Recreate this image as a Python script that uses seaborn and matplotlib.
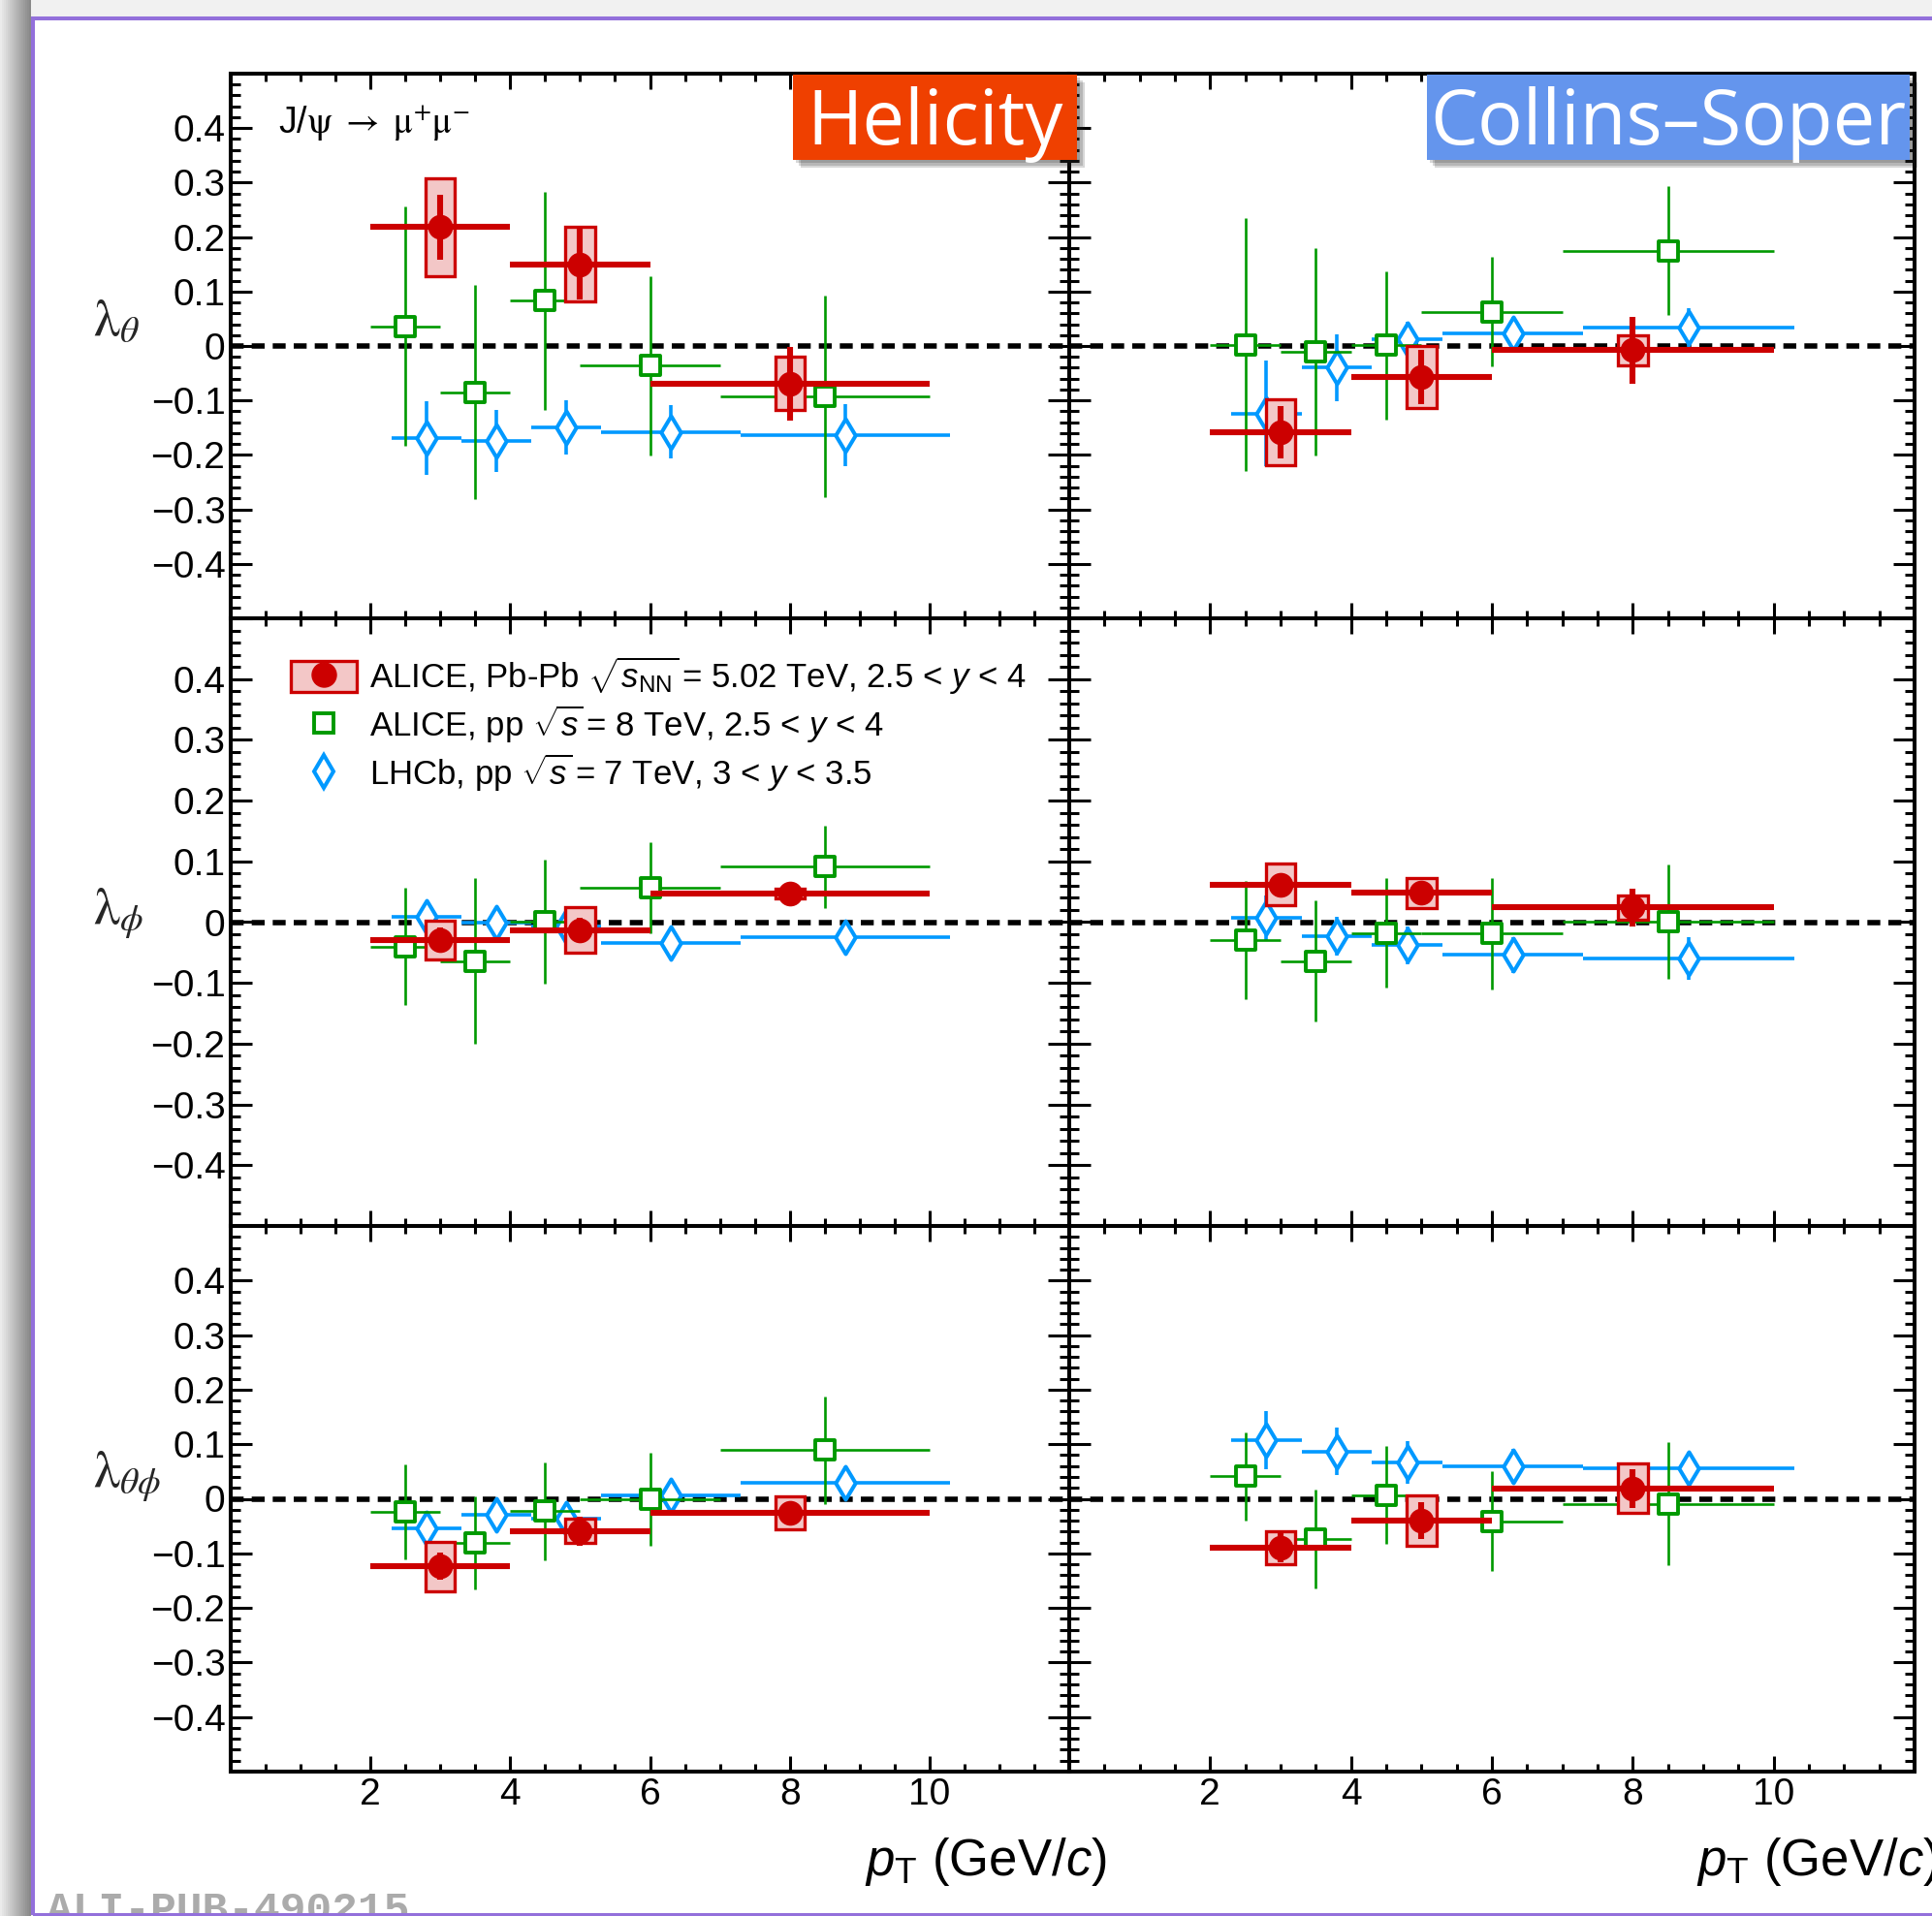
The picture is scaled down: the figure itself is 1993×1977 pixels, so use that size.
#!/usr/bin/env python3
"""J/psi polarization parameters vs pT: Helicity and Collins-Soper frames."""
import matplotlib

matplotlib.use("Agg")
import matplotlib.patheffects as pe
import matplotlib.pyplot as plt
import numpy as np
import pandas as pd
import seaborn as sns
from matplotlib.legend_handler import HandlerTuple
from matplotlib.lines import Line2D
from matplotlib.patches import Patch, Rectangle
from matplotlib.ticker import FuncFormatter, MultipleLocator

# panels in reading order: (row, col) -> lambda_theta / lambda_phi / lambda_thetaphi x HE / CS
PANELS = ["HE_th", "CS_th", "HE_ph", "CS_ph", "HE_thph", "CS_thph"]
ROW_LABELS = [r"$\mathrm{\lambda}_{\theta}$", r"$\mathrm{\lambda}_{\phi}$",
              r"$\mathrm{\lambda}_{\theta\phi}$"]
FRAMES = ["Helicity", "Collins\u2013Soper"]
LEGEND_LABELS = [
    r"ALICE, Pb-Pb $\sqrt{s_{\mathrm{NN}}}\!$ = 5.02 TeV, 2.5 < $y$ < 4",
    r"ALICE, pp $\sqrt{s}\!$ = 8 TeV, 2.5 < $y$ < 4",
    r"LHCb, pp $\sqrt{s}\!$ = 7 TeV, 3 < $y$ < 3.5",
]

# ALICE Pb-Pb 5.02 TeV
PBPB_PT = [3, 5, 8]
PBPB_HALF = [1, 1, 2]
PBPB_VAL = [[0.218, 0.150, -0.069], [-0.158, -0.057, -0.008],
            [-0.029, -0.013, 0.047], [0.062, 0.048, 0.024],
            [-0.124, -0.059, -0.026], [-0.090, -0.040, 0.019]]
PBPB_STAT = [[0.060, 0.065, 0.068], [0.048, 0.050, 0.062],
             [0.020, 0.020, 0.010], [0.015, 0.012, 0.031],
             [0.025, 0.027, 0.015], [0.027, 0.034, 0.035]]
PBPB_SYST = [[0.090, 0.069, 0.049], [0.060, 0.057, 0.028],
             [0.032, 0.037, 0.008], [0.034, 0.025, 0.020],
             [0.045, 0.022, 0.030], [0.030, 0.046, 0.045]]

# ALICE pp 8 TeV
PP_PT = [2.5, 3.5, 4.5, 6, 8.5]
PP_HALF = [0.5, 0.5, 0.5, 1, 1.5]
PP_VAL = [[0.036, -0.085, 0.083, -0.036, -0.093],
          [0.002, -0.011, 0.001, 0.063, 0.175],
          [-0.040, -0.064, 0.001, 0.056, 0.091],
          [-0.030, -0.064, -0.018, -0.019, 0.001],
          [-0.024, -0.081, -0.023, -0.001, 0.089],
          [0.041, -0.074, 0.007, -0.041, -0.009]]
PP_ERR = [[0.220, 0.197, 0.200, 0.165, 0.185],
          [0.232, 0.190, 0.136, 0.100, 0.118],
          [0.096, 0.136, 0.102, 0.075, 0.068],
          [0.097, 0.100, 0.090, 0.092, 0.094],
          [0.087, 0.085, 0.090, 0.086, 0.098],
          [0.081, 0.091, 0.090, 0.091, 0.113]]

# LHCb pp 7 TeV (drawn shifted by +0.3 GeV/c)
LHCB_PT = [2.8, 3.8, 4.8, 6.3, 8.8]
LHCB_HALF = [0.5, 0.5, 0.5, 1, 1.5]
LHCB_VAL = [[-0.169, -0.174, -0.150, -0.158, -0.163],
            [-0.124, -0.040, 0.012, 0.024, 0.034],
            [0.009, -0.001, -0.007, -0.034, -0.025],
            [0.007, -0.023, -0.038, -0.054, -0.060],
            [-0.054, -0.030, -0.036, 0.007, 0.029],
            [0.107, 0.087, 0.066, 0.059, 0.056]]
LHCB_ERR = [[0.067, 0.057, 0.050, 0.049, 0.057],
            [0.097, 0.062, 0.033, 0.030, 0.036],
            [0.025, 0.020, 0.020, 0.020, 0.026],
            [0.037, 0.032, 0.031, 0.030, 0.035],
            [0.032, 0.029, 0.025, 0.028, 0.030],
            [0.053, 0.044, 0.039, 0.032, 0.030]]

RED, PINK = "#CC0000", "#F3C7C7"
GREEN = "#009900"
BLUE = "#0099FF"

W, H = 1993, 1977
COL_PX = [238, 1103, 1975]
ROW_PX = [76, 638, 1265, 1828]


def build_frame():
    rows = []
    for p, name in enumerate(PANELS):
        for x, hw, v, st, sy in zip(PBPB_PT, PBPB_HALF, PBPB_VAL[p], PBPB_STAT[p], PBPB_SYST[p]):
            rows.append(dict(panel=name, sample="pbpb", pt=x, half=hw, val=v, err=st, syst=sy))
        for x, hw, v, er in zip(PP_PT, PP_HALF, PP_VAL[p], PP_ERR[p]):
            rows.append(dict(panel=name, sample="pp8", pt=x, half=hw, val=v, err=er, syst=0.0))
        for x, hw, v, er in zip(LHCB_PT, LHCB_HALF, LHCB_VAL[p], LHCB_ERR[p]):
            rows.append(dict(panel=name, sample="lhcb", pt=x, half=hw, val=v, err=er, syst=0.0))
    return pd.DataFrame(rows)


def yfmt(v, _):
    if abs(v) > 0.45:
        return ""
    if abs(v) < 1e-9:
        return "0"
    return f"{v:.1f}".replace("-", "\u2212")


def xfmt(v, _):
    return "" if v < 1 or v > 11 else f"{v:.0f}"


def main():
    sns.set_theme(style="ticks", rc={"axes.edgecolor": "black", "xtick.color": "black",
                                     "ytick.color": "black", "text.color": "black"})
    plt.rcParams["font.family"] = ["Liberation Sans", "DejaVu Sans"]
    plt.rcParams["mathtext.fontset"] = "custom"
    plt.rcParams["mathtext.rm"] = "Liberation Sans"
    plt.rcParams["mathtext.it"] = "Liberation Sans:italic"
    plt.rcParams["mathtext.bf"] = "Liberation Sans:bold"

    df = build_frame()
    fig = plt.figure(figsize=(W / 100, H / 100), dpi=100)
    fig.patch.set_facecolor("#F1F1F1")

    # page background: left shadow strip, white sheet, purple frame
    for i, g in enumerate(np.linspace(0.94, 0.62, 16) ** 1.3):
        fig.add_artist(Rectangle((i * 2 / W, 0), 2 / W, 1, transform=fig.transFigure,
                                 facecolor=str(g), edgecolor="none", zorder=-30))
    fig.add_artist(Rectangle((34 / W, 0), 1, 1 - 18.5 / H, transform=fig.transFigure,
                             facecolor="white", edgecolor="none", zorder=-20))

    for r in range(3):
        for c in range(2):
            p = r * 2 + c
            name = PANELS[p]
            x0, x1 = COL_PX[c], COL_PX[c + 1]
            y0, y1 = ROW_PX[r], ROW_PX[r + 1]
            ax = fig.add_axes([x0 / W, 1 - y1 / H, (x1 - x0) / W, (y1 - y0) / H])
            ax.set_facecolor("white")

            ax.axhline(0, color="black", lw=4.0, ls=(0, (2.4, 1.5)), zorder=1.5)

            d = df[(df.panel == name) & (df["sample"] == "lhcb")]
            ax.errorbar(d.pt, d.val, xerr=d.half, yerr=d.err, fmt="none",
                        ecolor=BLUE, elinewidth=2.6, capsize=0, zorder=2)
            sns.scatterplot(data=d, x="pt", y="val", ax=ax, marker="d", s=300,
                            color="white", edgecolor=BLUE, linewidth=2.9,
                            zorder=2.5, legend=False)

            d = df[(df.panel == name) & (df["sample"] == "pp8")]
            ax.errorbar(d.pt, d.val, xerr=d.half, yerr=d.err, fmt="none",
                        ecolor=GREEN, elinewidth=1.9, capsize=0, zorder=3)
            sns.scatterplot(data=d, x="pt", y="val", ax=ax, marker="s", s=215,
                            color="white", edgecolor=GREEN, linewidth=2.8,
                            zorder=3.5, legend=False)

            d = df[(df.panel == name) & (df["sample"] == "pbpb")]
            ax.bar(d.pt, 2 * d.syst, bottom=d.val - d.syst, width=0.42,
                   color=PINK, edgecolor=RED, linewidth=2.4, zorder=4)
            ax.errorbar(d.pt, d.val, xerr=d.half, yerr=d.err, fmt="none",
                        ecolor=RED, elinewidth=4.4, capsize=0, zorder=5)
            sns.scatterplot(data=d, x="pt", y="val", ax=ax, marker="o", s=340,
                            color=RED, linewidth=0, zorder=6, legend=False)

            ax.set_xlim(0, 12)
            ax.set_ylim(-0.5, 0.5)
            ax.xaxis.set_major_locator(MultipleLocator(2))
            ax.xaxis.set_minor_locator(MultipleLocator(0.5))
            ax.yaxis.set_major_locator(MultipleLocator(0.1))
            ax.yaxis.set_minor_locator(MultipleLocator(0.02))
            ax.xaxis.set_major_formatter(FuncFormatter(xfmt))
            ax.yaxis.set_major_formatter(FuncFormatter(yfmt))
            ax.tick_params(which="both", direction="in", top=True, right=True,
                           bottom=True, left=True, color="black", width=2.2)
            ax.tick_params(axis="y", which="major", length=16, pad=4, labelsize=28)
            ax.tick_params(axis="y", which="minor", length=7)
            ax.tick_params(axis="x", which="major", length=11.5, pad=4, labelsize=28)
            ax.tick_params(axis="x", which="minor", length=6)
            ax.tick_params(labelbottom=(r == 2), labelleft=(c == 0))
            for sp in ax.spines.values():
                sp.set_linewidth(2.9)
                sp.set_color("black")

            ax.set_xlabel("")
            if c == 0:
                ax.set_ylabel(ROW_LABELS[r], rotation=0, fontsize=39, ha="left",
                              va="baseline", math_fontfamily="stix")
                ax.yaxis.set_label_coords(-0.164, [0.52, 0.497, 0.52][r])
            else:
                ax.set_ylabel("")

            if p == 0:
                ax.text(0.0566, 0.892,
                        r"J/$\mathrm{\psi}\ \rightarrow\ \mathrm{\mu}^{+}\mathrm{\mu}^{-}$",
                        transform=ax.transAxes, fontsize=27, va="baseline",
                        math_fontfamily="stix")
            if p == 2:
                handles = [
                    (Patch(facecolor=PINK, edgecolor=RED, linewidth=2.4),
                     Line2D([], [], ls="none", marker="o", ms=18, color=RED)),
                    Line2D([], [], ls="none", marker="s", ms=14.5, mfc="white",
                           mec=GREEN, mew=2.8),
                    Line2D([], [], ls="none", marker="d", ms=17.5, mfc="white",
                           mec=BLUE, mew=2.9),
                ]
                ax.legend(handles, LEGEND_LABELS, handler_map={tuple: HandlerTuple()},
                          loc="upper left", bbox_to_anchor=(0.0717, 0.94),
                          frameon=False, fontsize=25, handlelength=1.95,
                          handleheight=1.05, handletextpad=0.38, labelspacing=0.2,
                          borderpad=0, borderaxespad=0)

    # frame banners
    for (bx0, bx1), label, col in zip([(818, 1111), (1472, 1970)], FRAMES,
                                      ["#EF4000", "#6495ED"]):
        shadow = [pe.SimplePatchShadow(offset=(o, -o), shadow_rgbFace="#222222", alpha=0.18)
                  for o in (2, 4, 6)]
        fig.add_artist(Rectangle((bx0 / W, 1 - 165 / H), (bx1 - bx0) / W, 88 / H,
                                 transform=fig.transFigure, facecolor=col,
                                 edgecolor="none", zorder=10,
                                 path_effects=shadow + [pe.Normal()]))
        fig.text((bx0 + bx1) / 2 / W, 1 - 149 / H, label, ha="center", va="baseline",
                 color="white", fontsize=56, family="Open Sans", zorder=11)

    for xpx in (892, 1750):
        fig.text(xpx / W, 1 - 1935 / H, r"$p_{\mathrm{T}}$ (GeV/$c$)", ha="left",
                 va="baseline", fontsize=38)

    fig.text(48 / W, 1 - 1983 / H, "ALI-PUB-490215", family="Liberation Mono",
             weight="bold", fontsize=32, color="#ABABAB", va="baseline", zorder=15)
    fig.add_artist(Rectangle((34 / W, 1.5 / H), 2, 1957 / H, transform=fig.transFigure,
                             fill=False, edgecolor="#9370DB", linewidth=2.9, zorder=20))

    fig.savefig("out.png", dpi=100)


if __name__ == "__main__":
    main()
